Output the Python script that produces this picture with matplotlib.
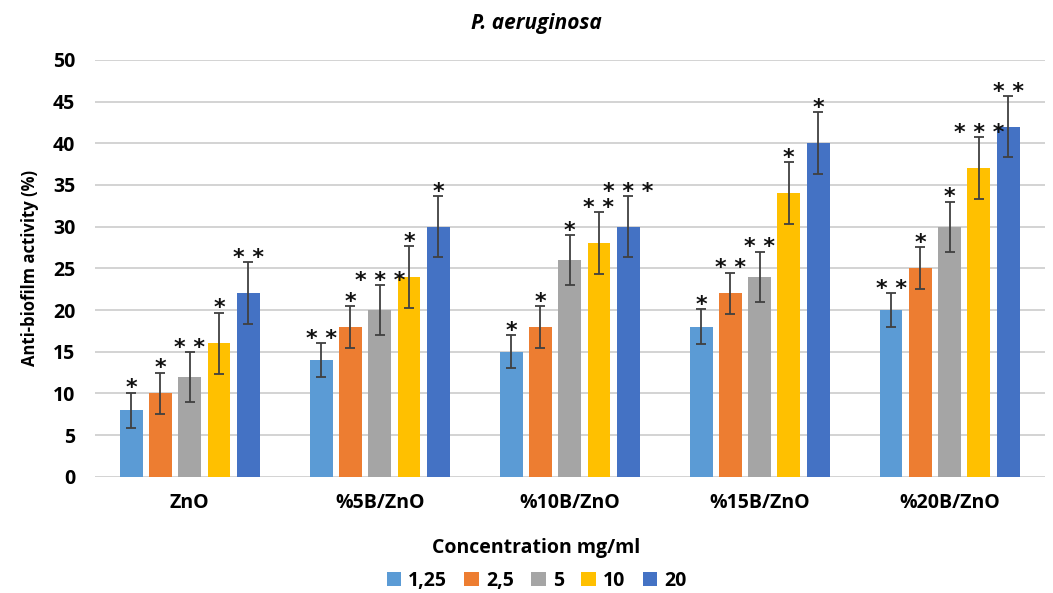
import matplotlib.pyplot as plt
import numpy as np

groups = ["ZnO", "%5B/ZnO", "%10B/ZnO", "%15B/ZnO", "%20B/ZnO"]
series = ["1,25", "2,5", "5", "10", "20"]
colors = ["#5b9bd5", "#ed7d31", "#a5a5a5", "#ffc000", "#4472c4"]

values = {
    "1,25": [8, 14, 15, 18, 20],
    "2,5": [10, 18, 18, 22, 25],
    "5": [12, 20, 26, 24, 30],
    "10": [16, 24, 28, 34, 37],
    "20": [22, 30, 30, 40, 42],
}
errors = {
    "1,25": [2.1, 2.0, 2.0, 2.1, 2.0],
    "2,5": [2.5, 2.5, 2.5, 2.5, 2.5],
    "5": [3.0, 3.0, 3.0, 3.0, 3.0],
    "10": [3.7, 3.7, 3.7, 3.7, 3.7],
    "20": [3.7, 3.7, 3.7, 3.7, 3.7],
}
stars = {
    "1,25": ["*", "* *", "*", "*", "* *"],
    "2,5": ["*", "*", "*", "* *", "*"],
    "5": ["* *", "* * *", "*", "* *", "*"],
    "10": ["*", "*", "* *", "*", "* * *"],
    "20": ["* *", "*", "* * *", "*", "* *"],
}

plt.rcParams["font.family"] = ["Open Sans", "DejaVu Sans"]

fig = plt.figure(figsize=(10.53, 5.93), dpi=100)
ax = fig.add_axes([0.09, 0.196, 0.902, 0.703])

x = np.arange(len(groups))
slot = 0.154
width = 0.12
for i, s in enumerate(series):
    xs = x + (i - 2) * slot
    ax.bar(xs, values[s], width, color=colors[i], label=s, zorder=3)
    ax.errorbar(xs, values[s], yerr=errors[s], fmt="none", ecolor="#404040",
                elinewidth=1.3, capsize=3.5, capthick=1.3, zorder=4)
    for xi, v, e, st in zip(xs, values[s], errors[s], stars[s]):
        ax.text(xi, v + e - 0.7, st, ha="center", va="bottom", fontsize=16,
                fontweight="bold", color="#111111", family="DejaVu Sans", zorder=5)

ax.set_ylim(0, 50)
ax.set_xlim(-0.5, 4.5)
ax.set_yticks(range(0, 51, 5))
ax.yaxis.grid(True, color="#d0d0d0", linewidth=1.3, zorder=0)
ax.set_axisbelow(True)
for sp in ax.spines.values():
    sp.set_visible(False)
ax.tick_params(axis="both", length=0, labelsize=14)
ax.tick_params(axis="y", pad=14)
ax.tick_params(axis="x", pad=12)
ax.set_xticks(x)
ax.set_xticklabels(groups, fontweight="bold")
for lab in ax.get_yticklabels():
    lab.set_fontweight("bold")

# Excel centres title/axis title/legend on the whole chart, a bit left of the plot centre
cx = 0.465
ax.set_ylabel("Anti-biofilm activity (%)", fontsize=12, fontweight="bold", labelpad=10)
ax.set_xlabel("Concentration mg/ml", fontsize=14, fontweight="bold", labelpad=18)
ax.xaxis.label.set_x(cx)
ax.set_title("P. aeruginosa", fontsize=15, fontweight="bold", style="italic", pad=22, x=cx)

ax.legend(loc="center", bbox_to_anchor=(cx, -0.249), ncol=5, frameon=False,
          prop={"weight": "bold", "size": 14}, handlelength=0.75, handleheight=0.75,
          columnspacing=0.9, handletextpad=0.35)

fig.savefig("out.png", dpi=100)
